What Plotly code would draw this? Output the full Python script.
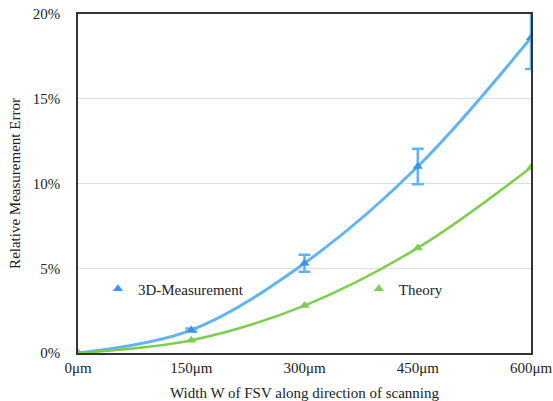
import plotly.graph_objects as go

# Width of the FSV along the scanning direction (µm)
widths = [0, 150, 300, 450, 600]
tick_labels = ["0μm", "150μm", "300μm", "450μm", "600μm"]

# Relative measurement error (%)
measured = [0.0, 1.35, 5.3, 11.0, 18.6]
measured_err = [0.0, 0.1, 0.5, 1.05, 1.85]
theory = [0.0, 0.75, 2.8, 6.2, 10.95]

y_ticks = [0, 5, 10, 15, 20]
y_tick_labels = ["0%", "5%", "10%", "15%", "20%"]

BLUE_LINE = "#62B4F0"
BLUE_MARK = "#3F93E6"
GREEN = "#7CCF4C"
FONT = "Liberation Serif"

fig = go.Figure()

# smooth curves (no legend)
fig.add_trace(go.Scatter(
    x=widths, y=measured, mode="lines", line=dict(color=BLUE_LINE, width=3, shape="spline"),
    error_y=dict(type="data", array=measured_err, color=BLUE_LINE, thickness=2.5, width=6),
    showlegend=False, hoverinfo="skip"))
fig.add_trace(go.Scatter(
    x=widths, y=theory, mode="lines", line=dict(color=GREEN, width=2.5, shape="spline"),
    showlegend=False, hoverinfo="skip"))

# markers carrying the legend entries
fig.add_trace(go.Scatter(
    x=widths, y=measured, mode="markers", name="3D-Measurement", legend="legend",
    marker=dict(symbol="triangle-up", size=9, color=BLUE_MARK)))
fig.add_trace(go.Scatter(
    x=widths, y=theory, mode="markers", name="Theory", legend="legend2",
    marker=dict(symbol="triangle-up", size=9, color=GREEN)))

legend_style = dict(orientation="h", yanchor="middle", xanchor="left",
                    bgcolor="rgba(0,0,0,0)", font=dict(family=FONT, size=15, color="#222"))

fig.update_layout(
    width=553, height=401,
    margin=dict(l=78, r=22, t=14, b=48),
    paper_bgcolor="white", plot_bgcolor="white",
    font=dict(family=FONT, size=15, color="#222"),
    legend=dict(x=0.044, y=0.189, **legend_style),
    legend2=dict(x=0.62, y=0.189, **legend_style),
    xaxis=dict(range=[0, 600], tickvals=widths, ticktext=tick_labels,
               showgrid=False, zeroline=False, showline=True, mirror=True,
               linecolor="#333", linewidth=1.5, ticks="", ticklabelstandoff=0,
               automargin=False,
               title=dict(text="Width W of FSV along direction of scanning",
                          font=dict(family=FONT, size=15), standoff=18)),
    yaxis=dict(range=[0, 20], tickvals=y_ticks, ticktext=y_tick_labels,
               showgrid=True, gridcolor="#DDDDDD", gridwidth=1, zeroline=False,
               showline=True, mirror=True, linecolor="#333", linewidth=1.5, ticks="",
               ticklabelstandoff=13, automargin=False,
               title=dict(text="Relative Measurement Error",
                          font=dict(family=FONT, size=15), standoff=9)),
)

fig.write_html("out.html")
